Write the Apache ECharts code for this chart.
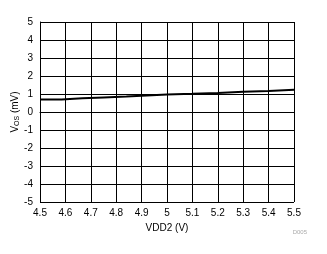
<!DOCTYPE html>
<html><head><meta charset="utf-8">
<script src="https://cdn.jsdelivr.net/npm/echarts@6/dist/echarts.min.js"></script>
<style>html,body{margin:0;padding:0;background:#fff}#c{width:327px;height:254px}</style>
</head><body><div id="c"></div>
<script>
const xTicks = [4.5,4.6,4.7,4.8,4.9,5,5.1,5.2,5.3,5.4,5.5];
const yTicks = [-5,-4,-3,-2,-1,0,1,2,3,4,5];
const vdd2 = [4.5, 4.585, 4.667, 4.75, 4.84, 4.92, 5.0, 5.1, 5.2, 5.3, 5.4, 5.5];
const vos  = [0.70, 0.76, 0.81, 0.86, 0.92, 0.97, 1.01, 1.06, 1.12, 1.17, 1.23, 1.23];

const chart = echarts.init(document.getElementById('c'), null, {renderer:'canvas'});
const font = 'Liberation Sans, Arial, sans-serif';
chart.setOption({
  animation:false,
  grid:{left:40,right:33,top:22,bottom:52,containLabel:false,outerBoundsMode:'none'},
  xAxis:{type:'value',min:4.5,max:5.5,interval:0.1,
    axisLine:{lineStyle:{color:'#000',width:1}},
    axisTick:{show:false},
    splitLine:{show:true,lineStyle:{color:'#000',width:1}},
    axisLabel:{color:'#000',fontFamily:font,fontSize:10,margin:6,
      formatter:v=>{const t=xTicks.find(x=>Math.abs(x-v)<1e-6);return t===undefined?'':String(t);}},
    name:'VDD2 (V)',nameLocation:'middle',nameGap:20,
    nameTextStyle:{color:'#000',fontFamily:font,fontSize:10}},
  yAxis:{type:'value',min:-5,max:5,interval:1,
    axisLine:{lineStyle:{color:'#000',width:1}},
    axisTick:{show:false},
    splitLine:{show:true,lineStyle:{color:'#000',width:1}},
    axisLabel:{color:'#000',fontFamily:font,fontSize:10,margin:7,
      formatter:v=>{const t=yTicks.find(x=>Math.abs(x-v)<1e-6);return t===undefined?'':String(t);}},
    name:'{a|V}{b|OS}{a| (mV)}',nameLocation:'middle',nameGap:19,nameMoveOverlap:false,
    nameTextStyle:{rich:{a:{color:'#000',fontFamily:font,fontSize:10},b:{color:'#000',fontFamily:font,fontSize:7,padding:[5,0,0,0]}}}},
  graphic:[{type:'text',right:20,top:229,style:{text:'D005',fill:'#aaa',font:'6px '+font}}],
  series:[{type:'line',step:'end',symbol:'none',
    lineStyle:{color:'#000',width:2},
    data:vdd2.map((x,i)=>[x,vos[i]])}]
});
</script></body></html>
